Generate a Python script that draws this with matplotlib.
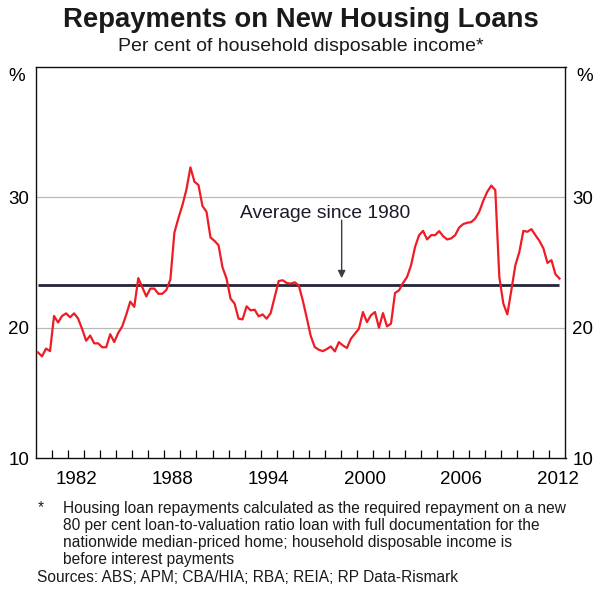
import matplotlib
matplotlib.use("Agg")
import matplotlib.pyplot as plt
import numpy as np

plt.rcParams['font.family'] = ['Liberation Sans', 'DejaVu Sans']

# Quarterly data, starting 1980 Q1
start_year = 1980
v_1980s = [18.1, 17.8, 18.4, 18.2, 20.9, 20.4, 20.9, 21.1, 20.8, 21.1,
           20.7, 19.9, 19.0, 19.4, 18.8, 18.8, 18.5, 18.5, 19.5, 18.9,
           19.6, 20.1, 21.0, 22.0, 21.6, 23.8, 23.1, 22.4, 23.0, 23.0,
           22.6, 22.6, 22.9, 23.7, 27.3, 28.4, 29.4, 30.6, 32.3, 31.2]
v_1990s = [30.95, 29.33, 28.9, 26.92, 26.66, 26.33, 24.62, 23.77, 22.23, 21.85,
           20.69, 20.64, 21.64, 21.33, 21.38, 20.87, 21.02, 20.69, 21.12, 22.35,
           23.58, 23.64, 23.43, 23.38, 23.48, 23.25, 22.1, 20.75, 19.35, 18.51,
           18.31, 18.2, 18.36, 18.56, 18.18, 18.89, 18.64, 18.44, 19.15, 19.54]
v_2000s = [19.92, 21.2, 20.43, 20.95, 21.2, 20.0, 21.12, 20.1, 20.31, 22.66,
           22.87, 23.43, 23.89, 24.79, 26.2, 27.1, 27.43, 26.77, 27.1, 27.1,
           27.41, 27.02, 26.77, 26.85, 27.1, 27.69, 27.95, 28.05, 28.1, 28.38,
           28.9, 29.74, 30.43, 30.9, 30.56, 23.89, 21.85, 21.02, 22.87, 24.79]
v_2010s = [25.82, 27.43, 27.36, 27.56, 27.1, 26.66, 26.08, 24.97, 25.18, 24.1,
           23.77]
average_since_1980 = 23.25

year_labels = [1982, 1988, 1994, 2000, 2006, 2012]
y_ticks = [10, 20, 30]

values = np.array(v_1980s + v_1990s + v_2000s + v_2010s)
dates = start_year + 0.125 + 0.25 * np.arange(len(values))

fig = plt.figure(figsize=(6.0, 5.91), dpi=100)
ax = fig.add_axes([0.06, 0.225, 0.8825, 0.6616])

ax.set_xlim(1980, 2013)
ax.set_ylim(10, 40)

# gridlines
for yv in [20, 30]:
    ax.axhline(yv, color='#b9b9b9', lw=0.9, zorder=1)

ax.plot([dates[0], dates[-1]], [average_since_1980, average_since_1980],
        color='#25253a', lw=2.0, zorder=2, solid_capstyle='butt')
ax.plot(dates, values, color='#ee1c25', lw=1.6, zorder=3)

ax.annotate('', xy=(1999.05, 23.8), xytext=(1999.05, 28.25),
            arrowprops=dict(arrowstyle='-|>', color='#3a3a4a', lw=1.0,
                            mutation_scale=11, shrinkA=0, shrinkB=0))
ax.text(1998.0, 28.75, 'Average since 1980', ha='center', va='center',
        fontsize=13.9, color='#1a1a2a')

# x ticks: yearly minor ticks inside, labels centred mid-year
ax.set_xticks(np.arange(1981, 2013), minor=True)
ax.set_xticks([y + 0.5 for y in year_labels])
ax.set_xticklabels([str(y) for y in year_labels], fontsize=13.5)
ax.tick_params(axis='x', which='major', length=0, pad=9)
ax.tick_params(axis='x', which='minor', direction='in', length=6, width=0.9,
               top=False, bottom=True)

# y ticks both sides
ax.set_yticks(y_ticks)
ax.set_yticklabels([str(v) for v in y_ticks], fontsize=13.5)
ax.tick_params(axis='y', which='both', length=0, pad=5,
               left=True, right=True, labelleft=True, labelright=True)

ax.text(-0.02, 0.975, '%', transform=ax.transAxes, ha='right', va='center',
        fontsize=13.5)
ax.text(1.02, 0.975, '%', transform=ax.transAxes, ha='left', va='center',
        fontsize=13.5)

for s in ax.spines.values():
    s.set_linewidth(1.0)
    s.set_color('#111111')

fig.text(0.502, 0.966, 'Repayments on New Housing Loans', ha='center',
         va='center', fontsize=19.8, fontweight='bold', color='#1a1a1a')
fig.text(0.502, 0.922, 'Per cent of household disposable income*',
         ha='center', va='center', fontsize=14, color='#1a1a1a')

foot_lines = ['Housing loan repayments calculated as the required repayment on a new',
              '80 per cent loan-to-valuation ratio loan with full documentation for the',
              'nationwide median-priced home; household disposable income is',
              'before interest payments']
y0 = 1 - 508 / 591
dy = 17.2 / 591
fig.text(38 / 600, y0, '*', ha='left', va='center', fontsize=11.2, color='#1a1a1a')
for i, line in enumerate(foot_lines):
    fig.text(63 / 600, y0 - i * dy, line, ha='left', va='center',
             fontsize=11.2, color='#1a1a1a')
fig.text(37 / 600, 1 - 577 / 591, 'Sources: ABS; APM; CBA/HIA; RBA; REIA; RP Data-Rismark',
         ha='left', va='center', fontsize=11.2, color='#1a1a1a')

fig.savefig('out.png', dpi=100)
